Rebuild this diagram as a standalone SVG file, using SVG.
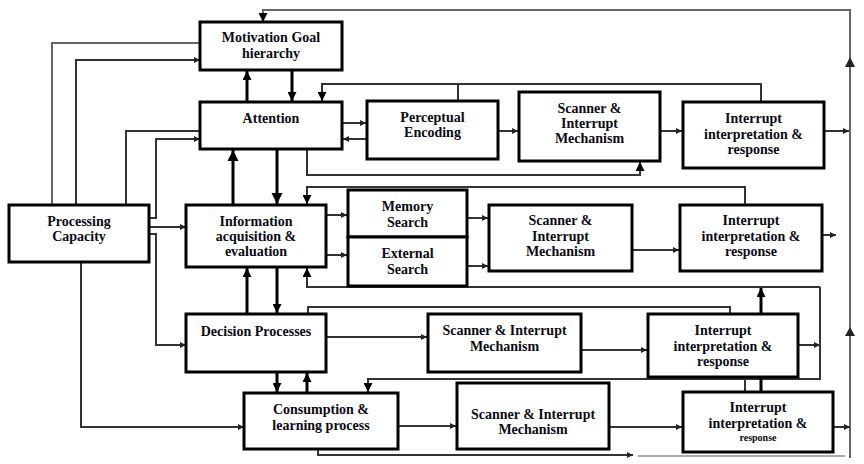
<svg xmlns="http://www.w3.org/2000/svg" width="864" height="464" viewBox="0 0 864 464">
<defs>
<style>
.box{fill:#fff;stroke:#000;stroke-width:3}
.t{font-family:"Liberation Serif","Times New Roman",serif;font-weight:bold;font-size:14px;text-anchor:middle;fill:#0a0a14}
.c{fill:none;stroke:#333;stroke-width:2}
.k{fill:none;stroke:#000;stroke-width:3}
.g{fill:none;stroke:#666;stroke-width:2}
.ah{fill:#222}
</style>
<marker id="s" viewBox="0 0 10 10" refX="10" refY="5" markerWidth="10" markerHeight="6" markerUnits="userSpaceOnUse" orient="auto"><path d="M0,0L10,5L0,10z" fill="#222"/></marker>
<marker id="m" viewBox="0 0 10 10" refX="10" refY="5" markerWidth="10" markerHeight="9" markerUnits="userSpaceOnUse" orient="auto"><path d="M0,0L10,5L0,10z" fill="#000"/></marker>
<marker id="l" viewBox="0 0 10 10" refX="10" refY="5" markerWidth="11" markerHeight="13" markerUnits="userSpaceOnUse" orient="auto"><path d="M0,0L10,5L0,10z" fill="#000"/></marker>
</defs>
<rect width="864" height="464" fill="#fff"/>
<g id="connectors">
<path class="g" d="M850,458V10H263V22" marker-end="url(#m)"/>
<polygon class="ah" points="850,57 845,67 855,67"/>
<polygon class="ah" points="850,327 845,336 855,336"/>
<path d="M638,456H845" fill="none" stroke="#aaa" stroke-width="2"/>
<path class="g" d="M52,205V43H200"/>
<path class="c" d="M76,205V60H200" marker-end="url(#s)"/>
<path class="c" d="M126,205V131H200"/>
<path class="c" d="M149,218H156V139H200" marker-end="url(#s)"/>
<path class="c" d="M149,227H186" marker-end="url(#s)"/>
<path class="c" d="M149,234H156V345H186" marker-end="url(#s)"/>
<path class="c" d="M81,262V427H244" marker-end="url(#s)"/>
<path class="k" d="M247,102V71" marker-end="url(#m)"/>
<path class="k" d="M292,70V101" marker-end="url(#m)"/>
<path class="k" d="M233,205V150" marker-end="url(#l)"/>
<path class="k" d="M277,149V204" marker-end="url(#l)"/>
<path class="k" d="M247,314V268" marker-end="url(#m)"/>
<path class="k" d="M277,267V313" marker-end="url(#m)"/>
<path class="k" d="M277,372V392" marker-end="url(#m)"/>
<path class="k" d="M307,393V373" marker-end="url(#m)"/>
<path class="c" d="M342,123H366" marker-end="url(#s)"/>
<path class="c" d="M367,139H343" marker-end="url(#s)"/>
<path class="c" d="M498,131H518" marker-end="url(#s)"/>
<path class="c" d="M660,131H682" marker-end="url(#s)"/>
<path class="c" d="M824,131H849" marker-end="url(#s)"/>
<path class="c" d="M761,102V84H322V101" marker-end="url(#m)"/>
<path class="c" d="M458,84V101"/>
<path class="c" d="M307,149V175H640V162" marker-end="url(#m)"/>
<path class="c" d="M745,205V187H307V204" marker-end="url(#m)"/>
<path class="c" d="M326,215H347" marker-end="url(#s)"/>
<path class="c" d="M326,255H347" marker-end="url(#s)"/>
<path class="c" d="M467,218H488" marker-end="url(#s)"/>
<path class="c" d="M467,266H488" marker-end="url(#s)"/>
<path class="c" d="M632,250H679" marker-end="url(#s)"/>
<path class="c" d="M822,235H836" marker-end="url(#s)"/>
<path class="c" d="M820,287H307V268" marker-end="url(#m)"/>
<path class="c" d="M820,287V379H368V392" marker-end="url(#m)"/>
<path class="c" d="M798,345H820" marker-end="url(#s)"/>
<path class="k" d="M761,314V288" marker-end="url(#m)"/>
<path class="c" d="M745,379V392"/>
<path class="k" d="M761,377V392"/>
<path class="c" d="M308,314V307H730V314"/>
<path class="c" d="M326,337H427" marker-end="url(#s)"/>
<path class="c" d="M581,350H647" marker-end="url(#s)"/>
<path class="c" d="M398,426H456" marker-end="url(#s)"/>
<path class="c" d="M609,427H682" marker-end="url(#s)"/>
<path class="c" d="M833,427H850" marker-end="url(#s)"/>
<path class="c" d="M318,449V455H633" marker-end="url(#s)"/>
</g>
<g id="motivation"><rect class="box" x="200" y="22" width="142" height="48"/><text class="t" x="271" y="42">Motivation Goal</text><text class="t" x="271" y="58">hierarchy</text></g>
<g id="attention"><rect class="box" x="200" y="102" width="142" height="47"/><text class="t" x="271" y="123">Attention</text></g>
<g id="perceptual"><rect class="box" x="367" y="101" width="131" height="58"/><text class="t" x="432.5" y="122">Perceptual</text><text class="t" x="432.5" y="137">Encoding</text></g>
<g id="scanner1"><rect class="box" x="519" y="92" width="141" height="69"/><text class="t" x="589.5" y="113">Scanner &amp;</text><text class="t" x="589.5" y="128">Interrupt</text><text class="t" x="589.5" y="143">Mechanism</text></g>
<g id="interrupt1"><rect class="box" x="683" y="102" width="141" height="66"/><text class="t" x="753.5" y="123">Interrupt</text><text class="t" x="753.5" y="139">interpretation &amp;</text><text class="t" x="753.5" y="154">response</text></g>
<g id="capacity"><rect class="box" x="9" y="205" width="140" height="57"/><text class="t" x="79" y="226">Processing</text><text class="t" x="79" y="241">Capacity</text></g>
<g id="information"><rect class="box" x="186" y="205" width="140" height="62"/><text class="t" x="256" y="226">Information</text><text class="t" x="256" y="241">acquisition &amp;</text><text class="t" x="256" y="256">evaluation</text></g>
<g id="memory"><rect class="box" x="348" y="190" width="119" height="47"/><text class="t" x="407.5" y="211">Memory</text><text class="t" x="407.5" y="227">Search</text></g>
<g id="external"><rect class="box" x="348" y="237" width="119" height="49"/><text class="t" x="407.5" y="258">External</text><text class="t" x="407.5" y="274">Search</text></g>
<g id="scanner2"><rect class="box" x="489" y="205" width="143" height="66"/><text class="t" x="560.5" y="225">Scanner &amp;</text><text class="t" x="560.5" y="241">Interrupt</text><text class="t" x="560.5" y="256">Mechanism</text></g>
<g id="interrupt2"><rect class="box" x="680" y="205" width="142" height="66"/><text class="t" x="751" y="225">Interrupt</text><text class="t" x="751" y="241">interpretation &amp;</text><text class="t" x="751" y="256">response</text></g>
<g id="decision"><rect class="box" x="186" y="314" width="140" height="58"/><text class="t" x="256" y="336">Decision Processes</text></g>
<g id="scanner3"><rect class="box" x="428" y="314" width="153" height="58"/><text class="t" x="504.5" y="335">Scanner &amp; Interrupt</text><text class="t" x="504.5" y="351">Mechanism</text></g>
<g id="interrupt3"><rect class="box" x="648" y="314" width="150" height="63"/><text class="t" x="723" y="335">Interrupt</text><text class="t" x="723" y="351">interpretation &amp;</text><text class="t" x="723" y="366">response</text></g>
<g id="consumption"><rect class="box" x="244" y="393" width="154" height="56"/><text class="t" x="321" y="414">Consumption &amp;</text><text class="t" x="321" y="430">learning process</text></g>
<g id="scanner4"><rect class="box" x="457" y="383" width="152" height="66"/><text class="t" x="533" y="419">Scanner &amp; Interrupt</text><text class="t" x="533" y="434">Mechanism</text></g>
<g id="interrupt4"><rect class="box" x="683" y="392" width="150" height="60"/><text class="t" x="758" y="412">Interrupt</text><text class="t" x="758" y="428">interpretation &amp;</text><text class="t" x="758" y="441" style="font-size:10px">response</text></g>
</svg>
